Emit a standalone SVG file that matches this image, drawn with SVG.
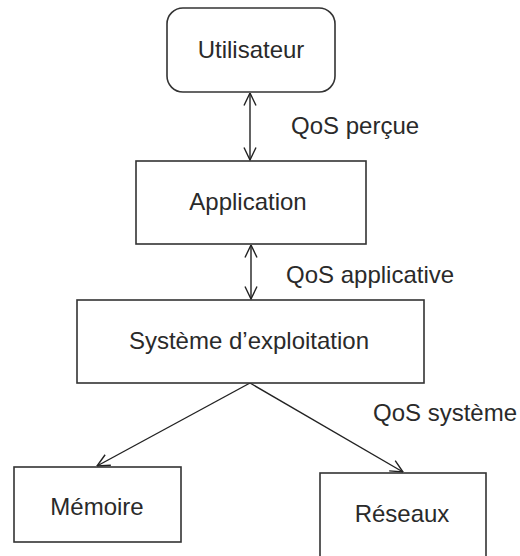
<svg xmlns="http://www.w3.org/2000/svg" width="520" height="556" viewBox="0 0 520 556">
  <style>
    .box { fill: #ffffff; stroke: #333333; stroke-width: 1.6; }
    .lbl { font-family: "Liberation Sans", Arial, sans-serif; font-size: 24px; fill: #2a2a2a; }
    .mid { text-anchor: middle; }
    .conn { stroke: #222222; stroke-width: 1.4; fill: none; }
  </style>
  <defs>
    <!-- open V arrowhead, reused at both ends of the vertical links -->
    <marker id="open" viewBox="0 0 14 14" refX="13.5" refY="7" markerWidth="14" markerHeight="14" markerUnits="userSpaceOnUse" orient="auto-start-reverse">
      <path d="M1,1 L13.5,7 L1,13" fill="none" stroke="#222222" stroke-width="1.4"/>
    </marker>
  </defs>
  <rect width="520" height="556" fill="#ffffff"/>

  <g id="connectors">
    <line class="conn" x1="250" y1="93" x2="250" y2="160" marker-start="url(#open)" marker-end="url(#open)"/>
    <line class="conn" x1="251" y1="245" x2="251" y2="299" marker-start="url(#open)" marker-end="url(#open)"/>
    <line class="conn" x1="250" y1="383" x2="97" y2="466" marker-end="url(#open)"/>
    <line class="conn" x1="250" y1="383" x2="403" y2="472" marker-end="url(#open)"/>
    <text class="lbl" x="291" y="134">QoS perçue</text>
    <text class="lbl" x="286" y="283">QoS applicative</text>
    <text class="lbl" x="373" y="421">QoS système</text>
  </g>

  <g id="utilisateur">
    <rect class="box" x="167" y="8" width="168" height="84" rx="16"/>
    <text class="lbl mid" x="251" y="58">Utilisateur</text>
  </g>
  <g id="application">
    <rect class="box" x="136" y="161" width="230" height="83"/>
    <text class="lbl mid" x="248" y="210">Application</text>
  </g>
  <g id="systeme">
    <rect class="box" x="77" y="300" width="347" height="83"/>
    <text class="lbl mid" x="249" y="349">Système d’exploitation</text>
  </g>
  <g id="memoire">
    <rect class="box" x="14" y="467" width="167" height="75"/>
    <text class="lbl mid" x="97" y="515">Mémoire</text>
  </g>
  <g id="reseaux">
    <rect class="box" x="320" y="473" width="166" height="85"/>
    <text class="lbl mid" x="402" y="522">Réseaux</text>
  </g>
</svg>
